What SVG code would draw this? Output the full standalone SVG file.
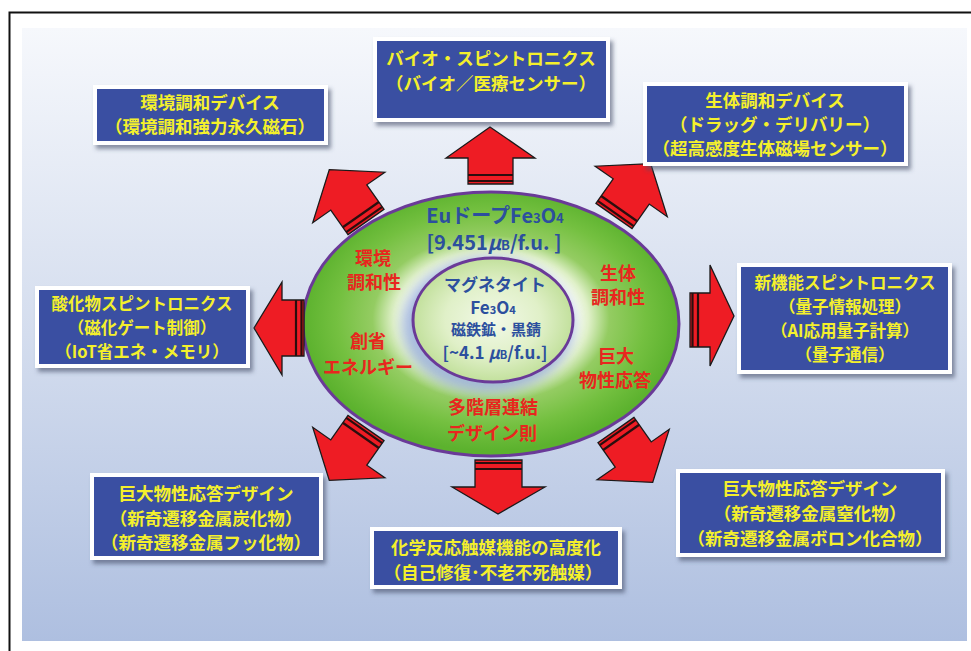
<svg xmlns="http://www.w3.org/2000/svg" width="971" height="651" viewBox="0 0 971 651">
<defs>
<style>
.bw{fill:#fff;filter:url(#sh)}
.bb{fill:#3a4fa2}
.bt{font-family:"Noto Sans CJK JP","Noto Sans",sans-serif;font-weight:700;font-size:17.5px;fill:#f4f02c;text-anchor:middle;dominant-baseline:central}
.bs{font-size:16.5px}
.rt{font-family:"Noto Sans CJK JP","Noto Sans",sans-serif;font-weight:700;font-size:18px;fill:#e8261e;text-anchor:middle;dominant-baseline:central}
.lt{font-family:"Noto Sans CJK JP","Noto Sans",sans-serif;font-weight:700;fill:#2c4f9e;text-anchor:middle;dominant-baseline:central}
.sb{font-size:65%;baseline-shift:-25%}
.arr{fill:#ee1c24;stroke:#1a1a1a;stroke-width:1.3;stroke-linejoin:miter}
.stp{stroke:#2a0e0e;stroke-width:2.2}
</style>
<filter id="sh" x="-10%" y="-10%" width="125%" height="140%">
<feDropShadow dx="3" dy="4" stdDeviation="2" flood-color="#44506a" flood-opacity="0.6"/>
</filter>
<filter id="bl" x="-20%" y="-20%" width="140%" height="140%"><feGaussianBlur stdDeviation="6"/></filter>
<linearGradient id="bg" x1="0" y1="0" x2="0" y2="1">
<stop offset="0" stop-color="#f6f8fc"/>
<stop offset="0.5" stop-color="#d4ddee"/>
<stop offset="1" stop-color="#aebfe0"/>
</linearGradient>
<radialGradient id="og" cx="0.5" cy="0.48" r="0.5">
<stop offset="0" stop-color="#ffffff"/>
<stop offset="0.44" stop-color="#ffffff"/>
<stop offset="0.52" stop-color="#dff0c8"/>
<stop offset="0.63" stop-color="#94cc62"/>
<stop offset="0.82" stop-color="#74c040"/>
<stop offset="1" stop-color="#5cb22e"/>
</radialGradient>
<radialGradient id="ig" cx="0.5" cy="0.5" r="0.5">
<stop offset="0" stop-color="#f2f9e8"/>
<stop offset="0.6" stop-color="#e0f0c8"/>
<stop offset="1" stop-color="#c2e09c"/>
</radialGradient>
<g id="arw">
<polygon class="arr" points="-22,0 22,0 22,-30 44,-30 0,-64 -44,-30 -22,-30"/>
<line class="stp" x1="-22" y1="-3" x2="22" y2="-3"/>
<line class="stp" x1="-22" y1="-9" x2="22" y2="-9"/>
</g>
</defs>

<rect x="9.5" y="12.5" width="1000" height="700" fill="#fff" stroke="#111" stroke-width="2"/>
<rect x="22" y="28" width="945" height="613" fill="url(#bg)"/>

<g id="center">
<ellipse cx="491" cy="324" rx="188" ry="132" fill="url(#og)" stroke="#6a3a98" stroke-width="3"/>
<ellipse cx="488" cy="325" rx="86" ry="68" fill="#8aa4d2" opacity="0.75" filter="url(#bl)"/>
<ellipse cx="493" cy="320" rx="80" ry="62" fill="url(#ig)" stroke="#6a3a98" stroke-width="3"/>
<text class="lt" x="495" y="214" font-size="20">EuドープFe<tspan class="sb">3</tspan>O<tspan class="sb">4</tspan></text>
<text class="lt" x="494" y="241" font-size="20">[9.451<tspan font-style="italic">μ</tspan><tspan class="sb">B</tspan>/f.u. ]</text>
<text class="lt" x="495" y="283" font-size="17">マグネタイト</text>
<text class="lt" x="493" y="306" font-size="17">Fe<tspan class="sb">3</tspan>O<tspan class="sb">4</tspan></text>
<text class="lt" x="496" y="328" font-size="15">磁鉄鉱・黒錆</text>
<text class="lt" x="495" y="351" font-size="17">[~4.1 <tspan font-style="italic">μ</tspan><tspan class="sb">B</tspan>/f.u.]</text>
<text class="rt" x="373" y="257">環境</text>
<text class="rt" x="374" y="281">調和性</text>
<text class="rt" x="618" y="272">生体</text>
<text class="rt" x="618" y="296">調和性</text>
<text class="rt" x="368" y="340">創省</text>
<text class="rt" x="368" y="366">エネルギー</text>
<text class="rt" x="616" y="355">巨大</text>
<text class="rt" x="615" y="379">物性応答</text>
<text class="rt" x="493" y="406">多階層連結</text>
<text class="rt" x="492" y="432">デザイン則</text>
</g>

<g id="connectors">
<g>
<polygon class="arr" points="468,184 513,184 513,158 535,158 490,127 446,158 468,158"/>
<line class="stp" x1="468" y1="181" x2="513" y2="181"/>
<line class="stp" x1="468" y1="175" x2="513" y2="175"/>
</g>
<g>
<polygon class="arr" points="475,460 522,460 522,487 545,487 498,514 452,487 475,487"/>
<line class="stp" x1="475" y1="463" x2="522" y2="463"/>
<line class="stp" x1="475" y1="469" x2="522" y2="469"/>
</g>
<g>
<polygon class="arr" points="690,293 710,293 710,265 734,316 710,366 710,347 690,347"/>
<line class="stp" x1="692.5" y1="293" x2="692.5" y2="347"/>
<line class="stp" x1="698" y1="293" x2="698" y2="347"/>
</g>
<g>
<polygon class="arr" points="304,300 282,300 282,282 254,328 282,375 282,356 304,356"/>
<line class="stp" x1="301.5" y1="300" x2="301.5" y2="356"/>
<line class="stp" x1="296" y1="300" x2="296" y2="356"/>
</g>
<use href="#arw" transform="translate(366,222) rotate(-35)"/>
<use href="#arw" transform="translate(614,216) rotate(35)"/>
<use href="#arw" transform="translate(366,428) rotate(-145)"/>
<use href="#arw" transform="translate(616,430) rotate(145)"/>
</g>

<g id="box-bio">
<rect class="bw" x="373" y="37" width="237" height="85"/>
<rect class="bb" x="377" y="41" width="229" height="77"/>
<text class="bt" x="491" y="57">バイオ・スピントロニクス</text>
<text class="bt" x="491" y="82">（バイオ／医療センサー）</text>
</g>
<g id="box-env">
<rect class="bw" x="93" y="85" width="235" height="60"/>
<rect class="bb" x="97" y="89" width="227" height="52"/>
<text class="bt" x="210" y="101">環境調和デバイス</text>
<text class="bt" x="210" y="125">（環境調和強力永久磁石）</text>
</g>
<g id="box-biodev">
<rect class="bw" x="643" y="82" width="265" height="84"/>
<rect class="bb" x="647" y="86" width="257" height="76"/>
<text class="bt" x="775" y="99">生体調和デバイス</text>
<text class="bt" x="775" y="123">（ドラッグ・デリバリー）</text>
<text class="bt" x="775" y="147">（超高感度生体磁場センサー）</text>
</g>
<g id="box-oxide">
<rect class="bw" x="35" y="286" width="215" height="82"/>
<rect class="bb" x="39" y="290" width="207" height="74"/>
<text class="bt bs" x="142" y="303">酸化物スピントロニクス</text>
<text class="bt bs" x="142" y="327">（磁化ゲート制御）</text>
<text class="bt bs" x="142" y="351">（IoT省エネ・メモリ）</text>
</g>
<g id="box-newfunc">
<rect class="bw" x="737" y="263" width="215" height="111"/>
<rect class="bb" x="741" y="267" width="207" height="103"/>
<text class="bt bs" x="845" y="282">新機能スピントロニクス</text>
<text class="bt bs" x="845" y="306">（量子情報処理）</text>
<text class="bt bs" x="845" y="330">（AI応用量子計算）</text>
<text class="bt bs" x="845" y="354">（量子通信）</text>
</g>
<g id="box-carbide">
<rect class="bw" x="90" y="473" width="233" height="87"/>
<rect class="bb" x="94" y="477" width="225" height="79"/>
<text class="bt" x="206" y="492">巨大物性応答デザイン</text>
<text class="bt" x="206" y="517">（新奇遷移金属炭化物）</text>
<text class="bt" x="206" y="541">（新奇遷移金属フッ化物）</text>
</g>
<g id="box-catalyst">
<rect class="bw" x="370" y="527" width="252" height="62"/>
<rect class="bb" x="374" y="531" width="244" height="54"/>
<text class="bt" x="496" y="546">化学反応触媒機能の高度化</text>
<text class="bt" x="493" y="571">（自己修復･不老不死触媒）</text>
</g>
<g id="box-nitride">
<rect class="bw" x="676" y="469" width="269" height="88"/>
<rect class="bb" x="680" y="473" width="261" height="80"/>
<text class="bt" x="810" y="487">巨大物性応答デザイン</text>
<text class="bt" x="810" y="512">（新奇遷移金属窒化物）</text>
<text class="bt" x="810" y="537">（新奇遷移金属ボロン化合物）</text>
</g>
</svg>
